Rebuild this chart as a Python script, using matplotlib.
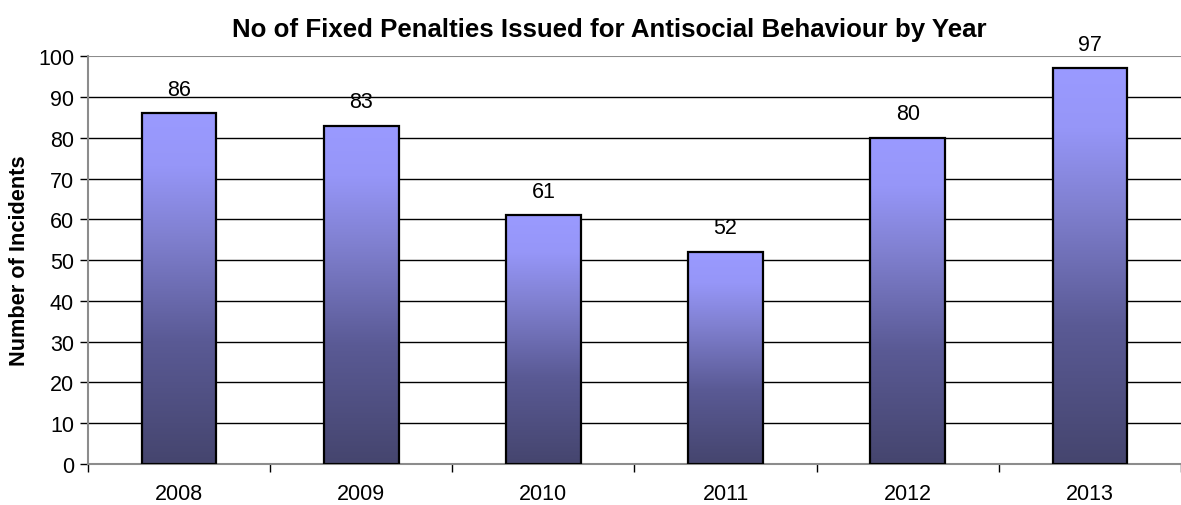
import numpy as np
import matplotlib
matplotlib.use("Agg")
import matplotlib.pyplot as plt
from matplotlib.colors import LinearSegmentedColormap

# ---- data ----
years = ["2008", "2009", "2010", "2011", "2012", "2013"]
counts = [86, 83, 61, 52, 80, 97]

plt.rcParams["font.family"] = ["Liberation Sans", "DejaVu Sans"]

# 柱体渐变：底部深紫蓝 -> 顶部浅紫
grad_cmap = LinearSegmentedColormap.from_list(
    "bar_grad",
    [(0.0, "#45456E"), (0.35, "#5A5A95"), (0.65, "#8080D0"),
     (0.85, "#9696F8"), (1.0, "#9A9AFF")],
)

fig = plt.figure(figsize=(11.81, 5.06), dpi=100)
ax = fig.add_axes([0.0745, 0.081, 0.9255, 0.806])

x = np.arange(len(years))
bars = ax.bar(x, counts, width=0.41, facecolor="none",
              edgecolor="black", linewidth=1.6, zorder=3)

grad = np.linspace(0, 1, 256).reshape(-1, 1)
for rect in bars:
    x0 = rect.get_x()
    w = rect.get_width()
    h = rect.get_height()
    im = ax.imshow(grad, cmap=grad_cmap, origin="lower", aspect="auto",
                   extent=[x0, x0 + w, 0, h], zorder=2, interpolation="bilinear")
    im.set_clip_path(rect)

for xi, v in zip(x, counts):
    ax.text(xi, v + 3.3, str(v), ha="center", va="bottom", fontsize=15.5)

ax.set_xlim(-0.5, len(years) - 0.5)
ax.set_ylim(0, 100)
ax.set_yticks(np.arange(0, 101, 10))
ax.set_xticks(x)
ax.set_xticklabels(years)
ax.set_xticks(np.arange(-0.5, len(years), 1), minor=True)
ax.tick_params(axis="x", which="major", length=0, pad=14, labelsize=15.5)
ax.tick_params(axis="x", which="minor", length=6, width=1, direction="out", color="black")
ax.tick_params(axis="y", length=6, width=1, direction="out", labelsize=15.5, pad=4)

# 网格线
for yv in range(10, 100, 10):
    ax.axhline(yv, color="black", linewidth=1.0, zorder=1)
ax.axhline(100, color="#8c8c8c", linewidth=1.5, zorder=1)

for side in ["top", "right"]:
    ax.spines[side].set_visible(False)
ax.spines["left"].set_color("#8c8c8c")
ax.spines["left"].set_linewidth(1.5)
ax.spines["bottom"].set_color("#8c8c8c")
ax.spines["bottom"].set_linewidth(1.5)

ax.set_ylabel("Number of Incidents", fontsize=15.7, fontweight="bold", labelpad=6)
fig.text(0.516, 0.94, "No of Fixed Penalties Issued for Antisocial Behaviour by Year",
         ha="center", va="center", fontsize=18.6, fontweight="bold")

fig.savefig("out.png", dpi=100)
